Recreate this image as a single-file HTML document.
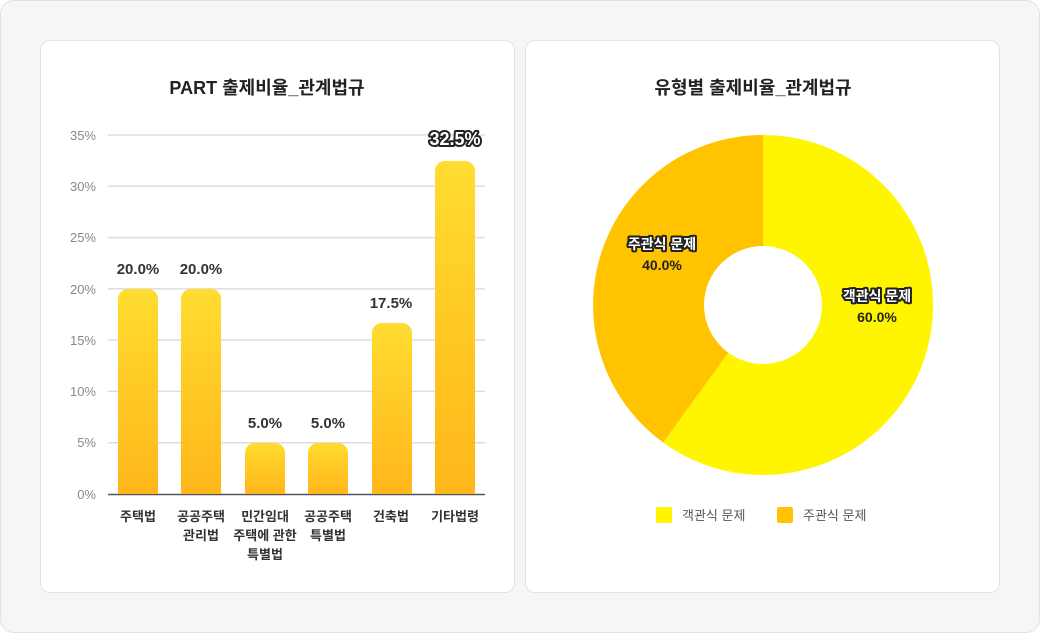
<!DOCTYPE html>
<html><head><meta charset="utf-8"><style>
body{margin:0;width:1040px;height:633px;background:#fff;font-family:"Liberation Sans","Noto Sans CJK KR",sans-serif;}
.outer{position:absolute;left:0;top:0;width:1038px;height:631px;border:1px solid #e2e2e2;border-radius:14px;background:#f6f6f6;}
.card{position:absolute;top:40px;width:473px;height:551px;background:#fff;border:1px solid #e3e3e3;border-radius:10px;}
</style></head><body>
<div class="outer"></div>
<div class="card" style="left:40px"></div>
<div class="card" style="left:525px"></div>
<svg width="1040" height="633" style="position:absolute;left:0;top:0" font-family="Liberation Sans, Noto Sans CJK KR, sans-serif">
<defs><linearGradient id="g" x1="0" y1="0" x2="0" y2="1"><stop offset="0" stop-color="#FFDC30"/><stop offset="1" stop-color="#FFB61A"/></linearGradient></defs>
<text x="267" y="94" text-anchor="middle" font-size="18" font-weight="bold" fill="#222">PART 출제비율_관계법규</text>
<text x="753" y="94" text-anchor="middle" font-size="18" font-weight="bold" fill="#222">유형별 출제비율_관계법규</text>
<g stroke="#ddd" stroke-width="1.5">
<line x1="108" x2="485" y1="135" y2="135"/><line x1="108" x2="485" y1="186.3" y2="186.3"/><line x1="108" x2="485" y1="237.6" y2="237.6"/><line x1="108" x2="485" y1="288.9" y2="288.9"/><line x1="108" x2="485" y1="340.1" y2="340.1"/><line x1="108" x2="485" y1="391.4" y2="391.4"/><line x1="108" x2="485" y1="442.7" y2="442.7"/></g>
<line x1="108" x2="485" y1="494.5" y2="494.5" stroke="#555" stroke-width="1.5"/>
<g font-size="13" fill="#888" text-anchor="end">
<text x="96" y="140">35%</text><text x="96" y="191">30%</text><text x="96" y="242">25%</text><text x="96" y="294">20%</text><text x="96" y="345">15%</text><text x="96" y="396">10%</text><text x="96" y="447">5%</text><text x="96" y="499">0%</text></g>
<g fill="url(#g)">
<path d="M118 494V299a10 10 0 0 1 10-10h20a10 10 0 0 1 10 10V494z"/>
<path d="M181 494V299a10 10 0 0 1 10-10h20a10 10 0 0 1 10 10V494z"/>
<path d="M245 494V453a10 10 0 0 1 10-10h20a10 10 0 0 1 10 10V494z"/>
<path d="M308 494V453a10 10 0 0 1 10-10h20a10 10 0 0 1 10 10V494z"/>
<path d="M372 494V333a10 10 0 0 1 10-10h20a10 10 0 0 1 10 10V494z"/>
<path d="M435 494V171a10 10 0 0 1 10-10h20a10 10 0 0 1 10 10V494z"/></g>
<g font-size="15" font-weight="bold" fill="#333" text-anchor="middle">
<text x="138" y="274">20.0%</text><text x="201" y="274">20.0%</text><text x="265" y="428">5.0%</text><text x="328" y="428">5.0%</text><text x="391" y="308">17.5%</text>
<text x="455" y="145" font-size="18" stroke="#222" stroke-width="4" stroke-linejoin="round" fill="#222">32.5%</text>
<text x="455" y="145" font-size="18" fill="#fff">32.5%</text></g>
<g font-size="13" font-weight="bold" fill="#333" text-anchor="middle">
<text x="138" y="521">주택법</text>
<text x="201" y="521">공공주택</text><text x="201" y="540">관리법</text>
<text x="265" y="521">민간임대</text><text x="265" y="540">주택에 관한</text><text x="265" y="559">특별법</text>
<text x="328" y="521">공공주택</text><text x="328" y="540">특별법</text>
<text x="391" y="521">건축법</text><text x="455" y="521">기타법령</text></g>
<path d="M763 305V135A170 170 0 1 1 663.1 442.5Z" fill="#FFF500"/>
<path d="M763 305L663.1 442.5A170 170 0 0 1 763 135Z" fill="#FFC300"/>
<circle cx="763" cy="305" r="59" fill="#fff"/>
<g font-size="14" font-weight="bold" text-anchor="middle" stroke="#222" stroke-width="4" stroke-linejoin="round" fill="#222">
<text x="662" y="249">주관식 문제</text><text x="877" y="301">객관식 문제</text></g>
<g font-size="14" font-weight="bold" text-anchor="middle" fill="#fff">
<text x="662" y="249">주관식 문제</text><text x="877" y="301">객관식 문제</text></g>
<g font-size="14" font-weight="bold" text-anchor="middle" fill="#222">
<text x="662" y="270">40.0%</text><text x="877" y="322">60.0%</text></g>
<rect x="656" y="507" width="16" height="16" rx="2" fill="#FFF500"/>
<text x="682" y="520" font-size="13" fill="#555">객관식 문제</text>
<rect x="777" y="507" width="16" height="16" rx="2" fill="#FFC300"/>
<text x="803" y="520" font-size="13" fill="#555">주관식 문제</text>
</svg>
</body></html>
